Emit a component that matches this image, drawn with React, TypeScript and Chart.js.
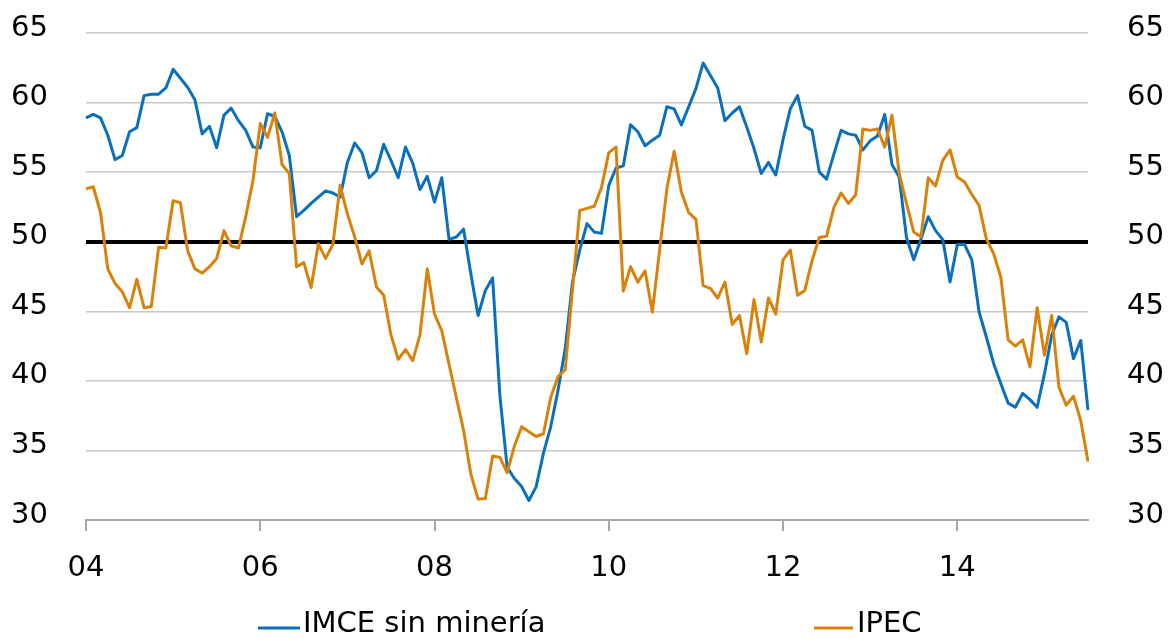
import React, { useEffect, useRef } from 'react';
import { Chart, registerables } from 'chart.js';

Chart.register(...registerables);

const seriesNames = ['IMCE sin minería', 'IPEC'];
const seriesColors = ['#0A70BE', '#D9820A'];

const startYear = 2004;
const monthCount = 139;
const months: string[] = Array.from({ length: monthCount }, (_, i) =>
  `${startYear + Math.floor(i / 12)}-${String((i % 12) + 1).padStart(2, '0')}`
);

const xTickLabels = ['04', '06', '08', '10', '12', '14'];
const xTickEvery = 24;

const yMin = 30;
const yMax = 65;
const yStep = 5;
const neutralLevel = 50;

const imce = [
  58.9, 59.15, 58.9, 57.65, 55.9, 56.2, 57.9, 58.2, 60.5, 60.6, 60.6, 61.05,
  62.4, 61.75, 61.1, 60.2, 57.75, 58.3, 56.75, 59.1, 59.6, 58.7, 58.0, 56.8,
  56.75, 59.2, 59.0, 57.9, 56.2, 51.8, 52.25, 52.75, 53.2, 53.65, 53.5, 53.2,
  55.7, 57.1, 56.4, 54.6, 55.1, 57.0, 55.85, 54.6, 56.8, 55.65, 53.75, 54.7,
  52.85, 54.6, 50.17, 50.34, 50.9, 47.7, 44.7, 46.5, 47.4, 38.95, 33.8, 32.98,
  32.4, 31.4, 32.4, 34.8, 36.7, 39.3, 42.3, 47.1, 49.4, 51.3, 50.7, 50.6,
  54.05, 55.3, 55.45, 58.4, 57.9, 56.9, 57.3, 57.65, 59.7, 59.55, 58.4, 59.7,
  61.0, 62.85, 61.95, 61.05, 58.7, 59.25, 59.7, 58.25, 56.7, 54.9, 55.7, 54.8,
  57.35, 59.55, 60.5, 58.3, 58.0, 55.0, 54.5, 56.3, 58.0, 57.75, 57.65, 56.6,
  57.25, 57.6, 59.15, 55.55, 54.65, 50.3, 48.7, 50.2, 51.8, 50.8, 50.15, 47.1,
  49.8, 49.8, 48.7, 44.95, 43.15, 41.25, 39.8, 38.4, 38.1, 39.1, 38.65, 38.1,
  40.5, 43.3, 44.6, 44.2, 41.6, 42.9, 37.9,
];

const ipec = [
  53.8, 53.95, 52.1, 48.05, 47.0, 46.4, 45.25, 47.3, 45.25, 45.35, 49.6, 49.55,
  52.95, 52.8, 49.35, 48.05, 47.75, 48.2, 48.8, 50.8, 49.7, 49.55, 51.8, 54.4,
  58.5, 57.5, 59.25, 55.55, 54.9, 48.2, 48.5, 46.7, 49.85, 48.8, 49.8, 54.05,
  52.0, 50.35, 48.4, 49.35, 46.75, 46.15, 43.3, 41.55, 42.25, 41.45, 43.3, 48.05,
  44.8, 43.6, 41.2, 38.8, 36.45, 33.3, 31.5, 31.55, 34.6, 34.5, 33.4, 35.3,
  36.7, 36.35, 36.0, 36.2, 38.8, 40.3, 40.8, 46.55, 52.25, 52.4, 52.55, 53.9,
  56.4, 56.8, 46.45, 48.2, 47.1, 47.9, 44.95, 49.4, 53.8, 56.5, 53.55, 52.1,
  51.6, 46.85, 46.65, 45.95, 47.1, 44.05, 44.7, 41.95, 45.85, 42.8, 45.95, 44.8,
  48.7, 49.4, 46.15, 46.5, 48.65, 50.3, 50.4, 52.45, 53.5, 52.75, 53.35, 58.1,
  58.0, 58.1, 56.8, 59.1, 54.9, 52.75, 50.7, 50.35, 54.6, 54.0, 55.85, 56.6,
  54.65, 54.3, 53.4, 52.6, 50.2, 49.15, 47.45, 42.95, 42.5, 42.95, 41.0, 45.25,
  41.85, 44.7, 39.55, 38.25, 38.9, 37.15, 34.2,
];

const FONT = '"DejaVu Sans", sans-serif';
const FONT_SIZE = 29;

const legendPlugin = {
  id: 'bottomLegend',
  afterDraw(chart: any) {
    const ctx = chart.ctx;
    const items = [
      { lineStart: 258, lineEnd: 300, textX: 303 },
      { lineStart: 814, lineEnd: 853, textX: 857 },
    ];
    ctx.save();
    ctx.font = `${FONT_SIZE}px ${FONT}`;
    ctx.textBaseline = 'alphabetic';
    ctx.textAlign = 'left';
    items.forEach((it, i) => {
      ctx.strokeStyle = seriesColors[i];
      ctx.lineWidth = 3;
      ctx.beginPath();
      ctx.moveTo(it.lineStart, 628);
      ctx.lineTo(it.lineEnd, 628);
      ctx.stroke();
      ctx.fillStyle = '#000';
      ctx.fillText(seriesNames[i], it.textX, 632);
    });
    ctx.restore();
  },
};

export default function App() {
  const canvasRef = useRef<HTMLCanvasElement | null>(null);

  useEffect(() => {
    if (!canvasRef.current) return;
    const yTicks = {
      stepSize: yStep,
      padding: 0,
      labelOffset: -5,
      color: '#000',
      font: { family: FONT, size: FONT_SIZE },
    };
    const chart = new Chart(canvasRef.current, {
      type: 'line',
      data: {
        labels: months,
        datasets: [
          {
            label: seriesNames[0],
            data: imce,
            borderColor: seriesColors[0],
            borderWidth: 3,
            pointRadius: 0,
            tension: 0,
            borderJoinStyle: 'round',
            yAxisID: 'y',
            order: 2,
          },
          {
            label: seriesNames[1],
            data: ipec,
            borderColor: seriesColors[1],
            borderWidth: 3,
            pointRadius: 0,
            tension: 0,
            borderJoinStyle: 'round',
            yAxisID: 'y',
            order: 1,
          },
        ],
      },
      options: {
        responsive: false,
        animation: false,
        events: [],
        layout: { padding: { top: 33, bottom: 49, left: 0, right: 0 } },
        plugins: {
          legend: { display: false },
          tooltip: { enabled: false },
        },
        scales: {
          x: {
            type: 'category',
            offset: false,
            afterBuildTicks: (s: any) => {
              s.ticks = s.ticks.filter((_: any, i: number) => i % xTickEvery === 0);
            },
            afterFit: (s: any) => {
              s.height = 70;
            },
            grid: {
              drawOnChartArea: false,
              drawTicks: true,
              tickLength: 11,
              color: '#a6a6a6',
              lineWidth: 2,
            },
            border: { display: true, color: '#a6a6a6', width: 2 },
            ticks: {
              autoSkip: false,
              maxRotation: 0,
              padding: 20,
              color: '#000',
              font: { family: FONT, size: FONT_SIZE },
              callback: (_v: any, i: number) => xTickLabels[i],
            },
          },
          y: {
            position: 'left',
            min: yMin,
            max: yMax,
            afterFit: (s: any) => {
              s.width = 86;
            },
            ticks: yTicks,
            grid: {
              drawTicks: true,
              tickLength: 38,
              tickColor: 'rgba(0,0,0,0)',
              color: (c: any) =>
                c.tick.value === neutralLevel ? '#000' : c.tick.value === yMin ? '#a6a6a6' : '#c8c8c8',
              lineWidth: (c: any) =>
                c.tick.value === neutralLevel ? 4 : c.tick.value === yMin ? 2 : 1.5,
            },
            border: { display: false },
          },
          y1: {
            position: 'right',
            min: yMin,
            max: yMax,
            afterFit: (s: any) => {
              s.width = 82;
            },
            ticks: yTicks,
            grid: { display: false, drawTicks: true, tickLength: 39 },
            border: { display: false },
          },
        },
      },
      plugins: [legendPlugin],
    } as any);
    return () => chart.destroy();
  }, []);

  return (
    <div style={{ position: 'fixed', left: 0, top: 0, width: 1170, height: 639, background: '#fff' }}>
      <canvas ref={canvasRef} width={1170} height={639} style={{ display: 'block' }} />
    </div>
  );
}
